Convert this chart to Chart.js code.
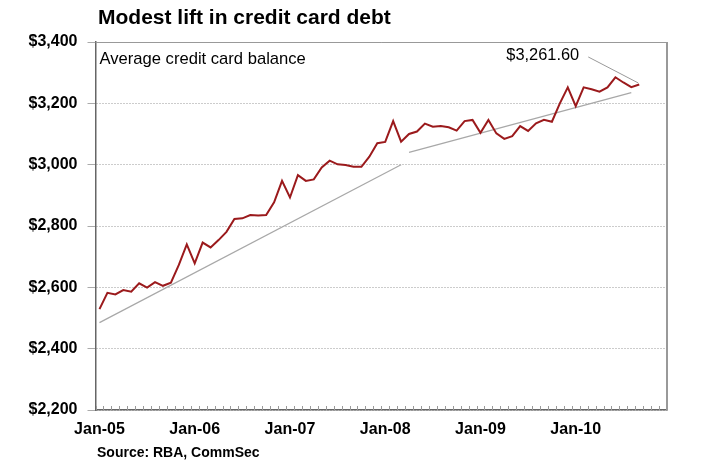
<!DOCTYPE html>
<html>
<head>
<meta charset="utf-8">
<script src="https://cdn.jsdelivr.net/npm/chart.js@4"></script>
<style>
  html, body { margin: 0; padding: 0; background: #fff; }
  #wrap { width: 703px; height: 475px; position: relative; }
</style>
</head>
<body>
<div id="wrap"><canvas id="debt-chart"></canvas></div>
<script>
/* monthly categories Jan-05 .. Dec-10 */
const months = ['Jan','Feb','Mar','Apr','May','Jun','Jul','Aug','Sep','Oct','Nov','Dec'];
const years = ['05','06','07','08','09','10'];
const categories = [];
years.forEach(y => months.forEach(m => categories.push(m + '-' + y)));

/* average credit card balance, $ (Jan-05 .. Sep-10) */
const balance = [
  2529, 2582, 2577, 2591, 2586, 2613, 2599, 2617, 2605, 2615, 2673, 2740,
  2678, 2746, 2730, 2754, 2781, 2823, 2825, 2836, 2834, 2836, 2877, 2947,
  2893, 2966, 2947, 2952, 2991, 3013, 3001, 2999, 2993, 2993, 3026, 3070,
  3074, 3142, 3075, 3100, 3108, 3134, 3124, 3126, 3122, 3111, 3142, 3146,
  3104, 3146, 3102, 3084, 3093, 3126, 3110, 3135, 3146, 3140, 3200, 3252,
  3191, 3252, 3246, 3238, 3252, 3285, 3268, 3253, 3261.6
];

/* trend lines: [category index, value] end points */
const trendOne = [[0, 2485], [38, 3000]];
const trendTwo = [[39, 3040], [67, 3235]];

const yTicks = [2200, 2400, 2600, 2800, 3000, 3200, 3400];
const lastLabel = '$3,261.60';

function trendData(pts) {
  const arr = categories.map(() => null);
  pts.forEach(p => { arr[p[0]] = p[1]; });
  return arr;
}

const font = '"Liberation Sans", Arial, sans-serif';

/* frame, inner month ticks, texts */
const decor = {
  id: 'decor',
  beforeDatasetsDraw(chart) {
    const {ctx, chartArea: a, scales: {x}} = chart;
    ctx.save();
    // small month ticks along the bottom, inside the plot
    const step = x.getPixelForValue(1) - x.getPixelForValue(0);
    ctx.strokeStyle = '#999';
    ctx.lineWidth = 1;
    ctx.beginPath();
    for (let i = 0; i <= categories.length; i++) {
      const px = Math.round(x.getPixelForValue(i) - step / 2) + 0.5;
      ctx.moveTo(px, a.bottom);
      ctx.lineTo(px, a.bottom - 4);
    }
    ctx.stroke();
    // top and right frame
    ctx.lineWidth = 1;
    ctx.beginPath();
    ctx.moveTo(a.left, a.top + 0.5);
    ctx.lineTo(a.right, a.top + 0.5);
    ctx.stroke();
    ctx.lineWidth = 2;
    ctx.beginPath();
    ctx.moveTo(a.right, a.top);
    ctx.lineTo(a.right, a.bottom);
    ctx.stroke();
    ctx.restore();
  },
  afterDraw(chart) {
    const {ctx, chartArea: a} = chart;
    ctx.save();
    ctx.fillStyle = '#000';
    ctx.textBaseline = 'alphabetic';
    ctx.textAlign = 'left';
    ctx.font = 'bold 21px ' + font;
    ctx.fillText('Modest lift in credit card debt', 98, 24);
    ctx.font = '16.6px ' + font;
    ctx.fillText('Average credit card balance', a.left + 4, a.top + 22);
    ctx.font = 'bold 14px ' + font;
    ctx.fillText('Source: RBA, CommSec', 97, 457);

    // label for the latest value
    const meta = chart.getDatasetMeta(0);
    const pt = meta.data[balance.length - 1];
    ctx.strokeStyle = '#999';
    ctx.lineWidth = 1;
    ctx.beginPath();
    ctx.moveTo(pt.x - 51, pt.y - 27.5);
    ctx.lineTo(pt.x - 1, pt.y - 1.5);
    ctx.stroke();
    ctx.font = '16.4px ' + font;
    ctx.textAlign = 'right';
    ctx.fillText(lastLabel, pt.x - 60, pt.y - 24);
    ctx.restore();
  }
};

const ctx = document.getElementById('debt-chart').getContext('2d');

new Chart(ctx, {
  type: 'line',
  data: {
    labels: categories,
    datasets: [
      {
        data: balance,
        borderColor: '#9b1a1c',
        borderWidth: 2,
        pointRadius: 0,
        tension: 0
      },
      {
        data: trendData(trendOne),
        borderColor: '#a8a8a8',
        borderWidth: 1.2,
        pointRadius: 0,
        spanGaps: true
      },
      {
        data: trendData(trendTwo),
        borderColor: '#a8a8a8',
        borderWidth: 1.2,
        pointRadius: 0,
        spanGaps: true
      }
    ]
  },
  options: {
    responsive: true,
    maintainAspectRatio: false,
    animation: false,
    layout: { padding: { top: 42, right: 36, left: 0, bottom: 0 } },
    plugins: {
      legend: { display: false },
      tooltip: { enabled: false }
    },
    scales: {
      x: {
        offset: true,
        grid: { display: false, drawTicks: false },
        border: { color: '#666', width: 1.5 },
        afterFit(scale) { scale.height = 65; },
        ticks: {
          autoSkip: false,
          maxRotation: 0,
          padding: 10,
          color: '#000',
          font: { family: font, size: 16, weight: 'bold' },
          callback(v, i) { return i % 12 === 0 ? categories[i] : ''; }
        }
      },
      y: {
        min: 2200,
        max: 3400,
        afterFit(scale) { scale.width = 95.5; },
        afterBuildTicks(scale) { scale.ticks = yTicks.map(v => ({ value: v })); },
        grid: { color: '#999', tickColor: '#aaa', tickLength: 8 },
        border: { color: '#666', width: 1.5, dash: [1, 2] },
        ticks: {
          padding: 10,
          color: '#000',
          font: { family: font, size: 16, weight: 'bold' },
          callback(v) { return '$' + v.toLocaleString('en-US'); }
        }
      }
    }
  },
  plugins: [decor]
});
</script>
</body>
</html>
